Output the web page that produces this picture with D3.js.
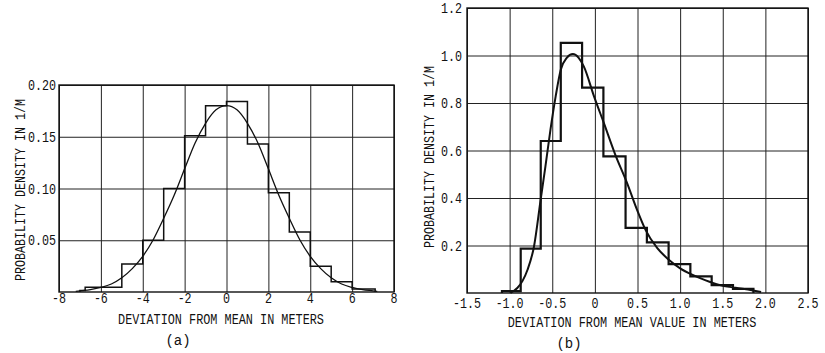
<!DOCTYPE html>
<html>
<head>
<meta charset="utf-8">
<script src="https://cdn.jsdelivr.net/npm/d3@7"></script>
<style>
  body { margin: 0; background: #fff; }
  svg { display: block; }
  text { font-family: "Liberation Mono", "DejaVu Sans Mono", monospace; font-size: 14px; fill: #111; }
  .grid line { stroke: #222; stroke-width: 1; }
  .grid .domain { display: none; }
</style>
</head>
<body>
<div class="plot"></div>
<script>
// ---- panel (a) data ----
var xTicksA = [-8, -6, -4, -2, 0, 2, 4, 6, 8];
var yTicksA = [0.05, 0.10, 0.15, 0.20];
var yTickLabelsA = ["0.05", "0.10", "0.15", "0.20"];
var histEdgesA = [-7, -6.75, -5, -4, -3, -2, -1, 0, 1, 2, 3, 4, 5, 6, 7.1];
var histValuesA = [0.0015, 0.0045, 0.027, 0.050, 0.100, 0.151, 0.180, 0.184, 0.143, 0.096, 0.058, 0.025, 0.010, 0.003];
var curveXA = [-7.2, -6.5, -6, -5.5, -5, -4.5, -4, -3.5, -3, -2.5, -2, -1.5, -1, -0.5, 0, 0.5, 1, 1.5, 2, 2.5, 3, 3.5, 4, 4.5, 5, 5.5, 6, 6.5, 7, 7.2];
var curveYA = [0.0006, 0.0023, 0.0044, 0.0077, 0.0137, 0.0226, 0.0344, 0.0505, 0.0712, 0.0935, 0.119, 0.144, 0.163, 0.176, 0.180, 0.176, 0.163, 0.144, 0.119, 0.0935, 0.0712, 0.0505, 0.0344, 0.0226, 0.0137, 0.0077, 0.0044, 0.0023, 0.0011, 0.0006];

// ---- panel (b) data ----
var xTicksB = [-1.5, -1.0, -0.5, 0, 0.5, 1.0, 1.5, 2.0, 2.5];
var xTickLabelsB = ["-1.5", "-1.0", "-0.5", "0", "0.5", "1.0", "1.5", "2.0", "2.5"];
var yTicksB = [0.2, 0.4, 0.6, 0.8, 1.0, 1.2];
var yTickLabelsB = ["0.2", "0.4", "0.6", "0.8", "1.0", "1.2"];
var histEdgesB = [-1.09, -0.87, -0.635, -0.40, -0.15, 0.10, 0.36, 0.61, 0.865, 1.12, 1.37, 1.62, 1.86];
var histValuesB = [0.008, 0.187, 0.640, 1.053, 0.865, 0.575, 0.274, 0.213, 0.122, 0.070, 0.033, 0.017];
var curveXB = [-0.99, -0.91, -0.85, -0.79, -0.714, -0.636, -0.58, -0.52, -0.46, -0.40, -0.33, -0.258, -0.19, -0.13, -0.01, 0.105, 0.24, 0.378, 0.495, 0.594, 0.73, 0.867, 1.0, 1.14, 1.3, 1.45, 1.65, 1.84, 1.95];
var curveYB = [0, 0.021, 0.05, 0.098, 0.196, 0.393, 0.533, 0.69, 0.828, 0.94, 0.99, 1.006, 0.99, 0.954, 0.828, 0.716, 0.582, 0.463, 0.35, 0.266, 0.19, 0.14, 0.104, 0.077, 0.053, 0.035, 0.022, 0.012, 0.004];

var svg = d3.select(".plot").append("svg")
    .attr("width", 825)
    .attr("height", 353);

function stepPoints(edges, values) {
  var pts = [[edges[0], 0]];
  values.forEach(function(v, i) {
    pts.push([edges[i], v]);
    pts.push([edges[i + 1], v]);
  });
  pts.push([edges[edges.length - 1], 0]);
  return pts;
}

function drawPanel(o) {
  var x = d3.scaleLinear().domain(o.xDomain).range([o.left, o.right]);
  var y = d3.scaleLinear().domain(o.yDomain).range([o.bottom, o.top]);
  var g = svg.append("g");

  // grid
  g.append("g")
    .attr("class", "grid")
    .attr("transform", "translate(0," + o.bottom + ")")
    .call(d3.axisBottom(x).tickValues(o.xTicks).tickSize(-(o.bottom - o.top)).tickFormat(""));
  g.append("g")
    .attr("class", "grid")
    .attr("transform", "translate(" + o.left + ",0)")
    .call(d3.axisLeft(y).tickValues(o.yTicks).tickSize(-(o.right - o.left)).tickFormat(""));

  // frame
  g.append("rect")
    .attr("x", o.left).attr("y", o.top)
    .attr("width", o.right - o.left).attr("height", o.bottom - o.top)
    .attr("fill", "none").attr("stroke", "#111").attr("stroke-width", 1.4);

  // tick labels
  g.selectAll(".xl").data(o.xTicks).enter().append("text")
    .attr("x", function(d) { return x(d); })
    .attr("y", o.xTickY)
    .attr("text-anchor", "middle")
    .attr("textLength", function(d, i) { return o.xLabels[i].length * 7; })
    .attr("lengthAdjust", "spacingAndGlyphs")
    .text(function(d, i) { return o.xLabels[i]; });
  g.selectAll(".yl").data(o.yTicks).enter().append("text")
    .attr("x", o.left - o.yTickPad)
    .attr("y", function(d) { return y(d) + 5; })
    .attr("text-anchor", "end")
    .attr("textLength", function(d, i) { return o.yLabels[i].length * 7; })
    .attr("lengthAdjust", "spacingAndGlyphs")
    .text(function(d, i) { return o.yLabels[i]; });

  // axis titles
  g.append("text")
    .attr("x", o.xTitleX).attr("y", o.xTitleY)
    .attr("text-anchor", "middle")
    .attr("textLength", o.xTitle.length * 7.1)
    .attr("lengthAdjust", "spacingAndGlyphs")
    .text(o.xTitle);
  g.append("text")
    .attr("transform", "translate(" + o.yTitleX + "," + o.yTitleY + ") rotate(-90)")
    .attr("text-anchor", "middle")
    .attr("textLength", o.yTitle.length * 7)
    .attr("lengthAdjust", "spacingAndGlyphs")
    .text(o.yTitle);
  g.append("text")
    .attr("x", o.capX).attr("y", o.capY)
    .attr("text-anchor", "middle")
    .text(o.caption);

  // histogram
  var step = d3.line()
    .x(function(d) { return x(d[0]); })
    .y(function(d) { return y(d[1]); });
  g.append("path")
    .attr("d", step(stepPoints(o.edges, o.values)))
    .attr("fill", "none").attr("stroke", "#111")
    .attr("stroke-width", o.histWidth);

  // fitted curve
  var curve = d3.line()
    .curve(d3.curveMonotoneX)
    .x(function(d) { return x(d[0]); })
    .y(function(d) { return y(d[1]); });
  g.append("path")
    .attr("d", curve(o.cx.map(function(v, i) { return [v, o.cy[i]]; })))
    .attr("fill", "none").attr("stroke", "#111")
    .attr("stroke-width", o.curveWidth);
}

drawPanel({
  xDomain: [-8, 8], yDomain: [0, 0.2],
  left: 59, right: 394, top: 85, bottom: 292,
  xTicks: xTicksA, xLabels: xTicksA.map(String),
  yTicks: yTicksA, yLabels: yTickLabelsA,
  xTickY: 303, yTickPad: 3,
  xTitle: "DEVIATION FROM MEAN IN METERS", xTitleX: 221, xTitleY: 324,
  yTitle: "PROBABILITY DENSITY IN 1/M", yTitleX: 25, yTitleY: 190,
  caption: "(a)", capX: 178, capY: 345,
  edges: histEdgesA, values: histValuesA, histWidth: 1.5,
  cx: curveXA, cy: curveYA, curveWidth: 1.3
});

drawPanel({
  xDomain: [-1.5, 2.5], yDomain: [0, 1.2],
  left: 467, right: 808, top: 8, bottom: 293,
  xTicks: xTicksB, xLabels: xTickLabelsB,
  yTicks: yTicksB, yLabels: yTickLabelsB,
  xTickY: 308, yTickPad: 5,
  xTitle: "DEVIATION FROM MEAN VALUE IN METERS", xTitleX: 632, xTitleY: 327,
  yTitle: "PROBABILITY DENSITY IN 1/M", yTitleX: 434, yTitleY: 157,
  caption: "(b)", capX: 569, capY: 348,
  edges: histEdgesB, values: histValuesB, histWidth: 2.2,
  cx: curveXB, cy: curveYB, curveWidth: 2
});
</script>
</body>
</html>
